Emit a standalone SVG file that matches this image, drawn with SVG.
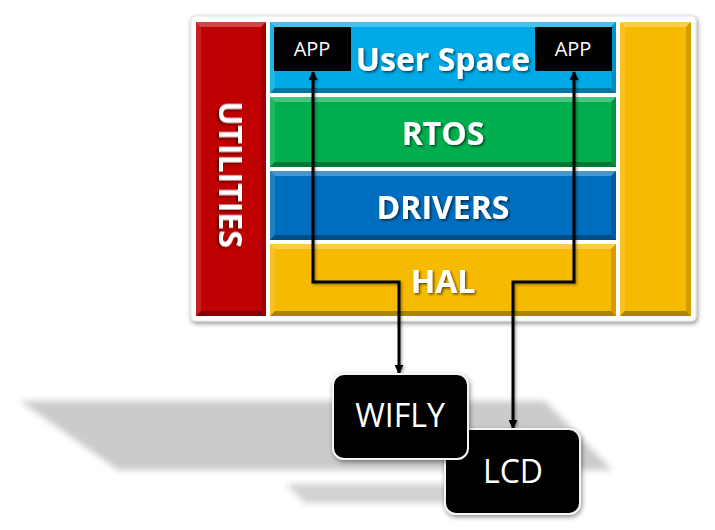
<svg xmlns="http://www.w3.org/2000/svg" width="715" height="530" viewBox="0 0 715 530">
<defs>
<style>
.lbl{font-family:"Open Sans","Liberation Sans",sans-serif;font-weight:bold;font-size:32px;fill:#fff;text-anchor:middle;filter:url(#ts)}
.app{font-family:"Open Sans","Liberation Sans",sans-serif;font-size:20px;fill:#fff;text-anchor:middle}
.dev{font-family:"Open Sans","Liberation Sans",sans-serif;font-size:32px;fill:#fff;text-anchor:middle}
.hi{fill:#fff;fill-opacity:.28}
.hl{fill:#fff;fill-opacity:.12}
.sh{fill:#000;fill-opacity:.3}
.sr{fill:#000;fill-opacity:.15}
.con{fill:none;stroke:#000;stroke-width:3;marker-start:url(#ar);marker-end:url(#ar)}
.box{fill:#000;stroke:#f4f4f4;stroke-width:2;filter:url(#ds)}
</style>
<marker id="ar" viewBox="0 0 10 10" refX="9" refY="5" markerWidth="9" markerHeight="9" markerUnits="userSpaceOnUse" orient="auto-start-reverse">
<path d="M0,0 L10,5 L0,10 z" fill="#000"/>
</marker>
<filter id="ts" x="-10%" y="-20%" width="120%" height="150%">
<feDropShadow dx="1.5" dy="1.5" stdDeviation="1" flood-color="#000" flood-opacity=".6"/>
</filter>
<filter id="ds" x="-20%" y="-20%" width="140%" height="140%">
<feDropShadow dx="1" dy="2" stdDeviation="2.5" flood-color="#000" flood-opacity=".45"/>
</filter>
<filter id="cs" x="-20%" y="-20%" width="140%" height="140%">
<feDropShadow dx="1.5" dy="1.5" stdDeviation="1" flood-color="#000" flood-opacity=".35"/>
</filter>
<filter id="bl" x="-10%" y="-30%" width="120%" height="160%">
<feGaussianBlur stdDeviation="3"/>
</filter>
</defs>
<rect width="715" height="530" fill="#fff"/>
<g id="floor-shadow" filter="url(#bl)">
<polygon points="20,401 545,401 612,470 118,470" fill="#cbcbcb"/>
<polygon points="286,484 450,484 455,503 305,503" fill="#d2d2d2"/>
</g>
<g id="panel">
<rect x="191" y="16" width="505" height="305" rx="4" fill="#fff" stroke="#e2e2e2" stroke-width="1" filter="url(#ds)"/>
</g>
<g id="utilities">
<rect x="196" y="22" width="70" height="294" fill="#BE0000"/>
<polygon class="hi" points="196,22 266,22 261,27 201,27"/>
<polygon class="hl" points="196,22 201,27 201,311 196,316"/>
<polygon class="sr" points="266,22 261,27 261,311 266,316"/>
<polygon class="sh" points="196,316 266,316 261,311 201,311"/>
<text class="lbl" transform="translate(219,174.5) rotate(90)">UTILITIES</text>
</g>
<g id="right-column">
<rect x="620" y="22" width="71" height="294" fill="#F6BA00"/>
<polygon class="hi" points="620,22 691,22 686,27 625,27"/>
<polygon class="hl" points="620,22 625,27 625,311 620,316"/>
<polygon class="sr" points="691,22 686,27 686,311 691,316"/>
<polygon class="sh" points="620,316 691,316 686,311 625,311"/>
</g>
<g id="user-space">
<rect x="270" y="22" width="346" height="71" fill="#00AAE6"/>
<polygon class="hi" points="270,22 616,22 611,27 275,27"/>
<polygon class="hl" points="270,22 275,27 275,88 270,93"/>
<polygon class="sr" points="616,22 611,27 611,88 616,93"/>
<polygon class="sh" points="270,93 616,93 611,88 275,88"/>
<text class="lbl" x="443" y="71">User Space</text>
</g>
<g id="rtos">
<rect x="270" y="97" width="346" height="70" fill="#00AE4E"/>
<polygon class="hi" points="270,97 616,97 611,102 275,102"/>
<polygon class="hl" points="270,97 275,102 275,162 270,167"/>
<polygon class="sr" points="616,97 611,102 611,162 616,167"/>
<polygon class="sh" points="270,167 616,167 611,162 275,162"/>
<text class="lbl" x="443" y="145">RTOS</text>
</g>
<g id="drivers">
<rect x="270" y="171" width="346" height="69" fill="#006EBE"/>
<polygon class="hi" points="270,171 616,171 611,176 275,176"/>
<polygon class="hl" points="270,171 275,176 275,235 270,240"/>
<polygon class="sr" points="616,171 611,176 611,235 616,240"/>
<polygon class="sh" points="270,240 616,240 611,235 275,235"/>
<text class="lbl" x="443" y="219">DRIVERS</text>
</g>
<g id="hal">
<rect x="270" y="244" width="346" height="72" fill="#F6BA00"/>
<polygon class="hi" points="270,244 616,244 611,249 275,249"/>
<polygon class="hl" points="270,244 275,249 275,311 270,316"/>
<polygon class="sr" points="616,244 611,249 611,311 616,316"/>
<polygon class="sh" points="270,316 616,316 611,311 275,311"/>
<text class="lbl" x="443" y="293">HAL</text>
</g>
<g id="connectors" filter="url(#cs)">
<path class="con" d="M313,72 V282 H399 V373"/>
<path class="con" d="M574,72 V282 H513 V428"/>
</g>
<g id="app-left">
<rect x="274" y="27" width="77" height="44" rx="1" fill="#000"/>
<text class="app" x="312" y="56">APP</text>
</g>
<g id="app-right">
<rect x="535" y="27" width="77" height="44" rx="1" fill="#000"/>
<text class="app" x="573" y="56">APP</text>
</g>
<g id="lcd">
<rect class="box" x="445" y="429" width="135" height="85" rx="11"/>
<text class="dev" x="513" y="483">LCD</text>
</g>
<g id="wifly">
<rect class="box" x="333" y="374" width="135" height="85" rx="11"/>
<text class="dev" x="400" y="427">WIFLY</text>
</g>
</svg>
